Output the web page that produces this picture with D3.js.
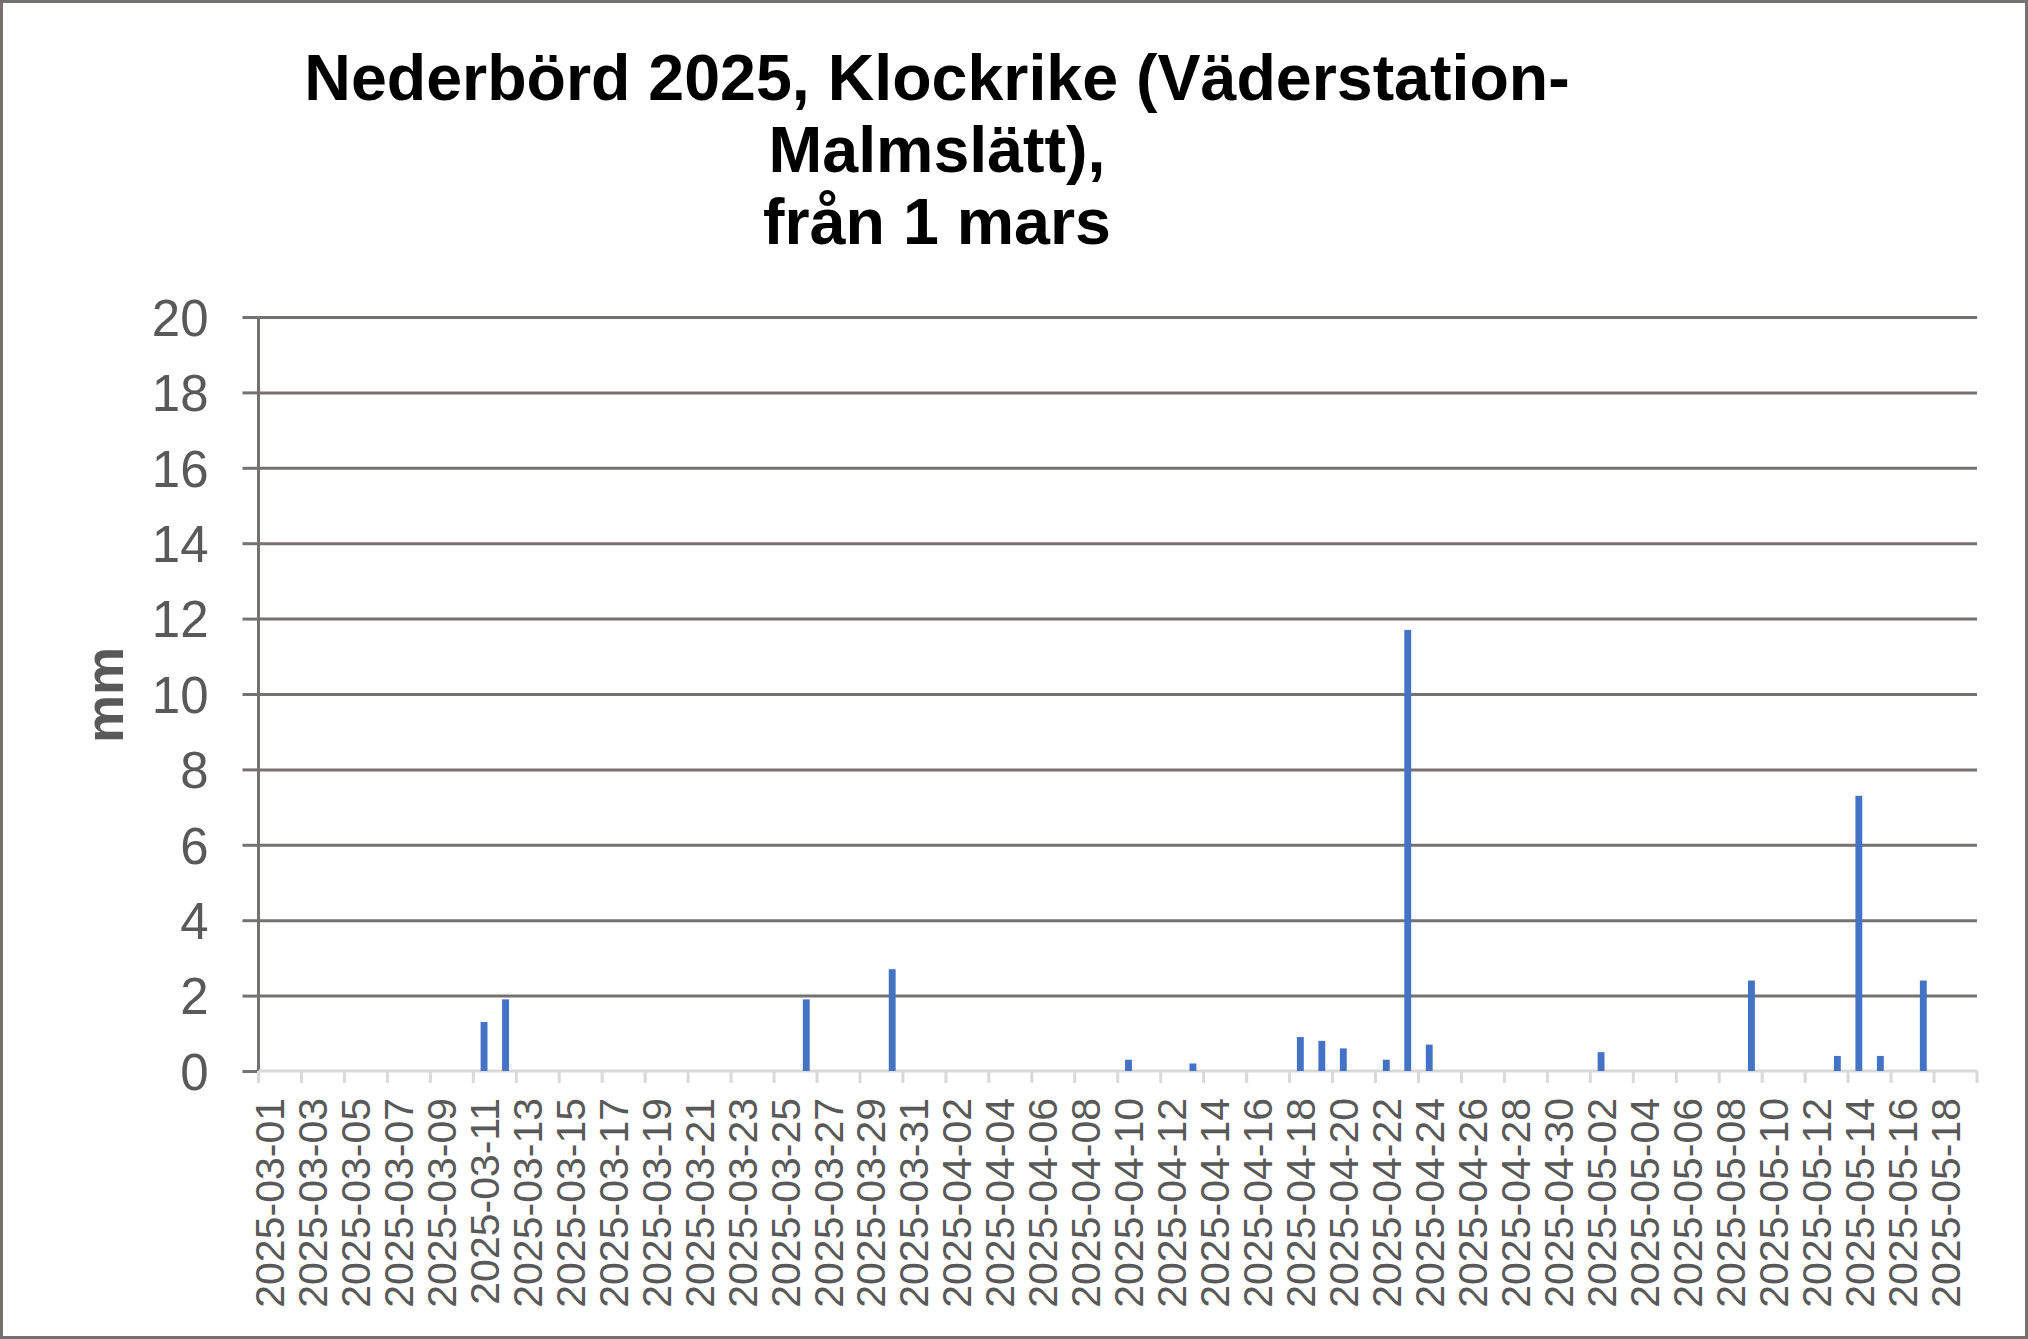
<!DOCTYPE html>
<html>
<head>
<meta charset="utf-8">
<script src="https://cdn.jsdelivr.net/npm/d3@7"></script>
<style>
  html, body { margin: 0; padding: 0; background: #fff; }
  svg { display: block; }
</style>
</head>
<body>
<svg id="chart" width="2028" height="1339"></svg>
<script>
const titleLines = ["Nederbörd 2025, Klockrike (Väderstation-", "Malmslätt),", "från 1 mars"];
const yAxisTitle = "mm";

const categories = [
  "2025-03-01","2025-03-02","2025-03-03","2025-03-04","2025-03-05","2025-03-06","2025-03-07","2025-03-08","2025-03-09","2025-03-10",
  "2025-03-11","2025-03-12","2025-03-13","2025-03-14","2025-03-15","2025-03-16","2025-03-17","2025-03-18","2025-03-19","2025-03-20",
  "2025-03-21","2025-03-22","2025-03-23","2025-03-24","2025-03-25","2025-03-26","2025-03-27","2025-03-28","2025-03-29","2025-03-30",
  "2025-03-31","2025-04-01","2025-04-02","2025-04-03","2025-04-04","2025-04-05","2025-04-06","2025-04-07","2025-04-08","2025-04-09",
  "2025-04-10","2025-04-11","2025-04-12","2025-04-13","2025-04-14","2025-04-15","2025-04-16","2025-04-17","2025-04-18","2025-04-19",
  "2025-04-20","2025-04-21","2025-04-22","2025-04-23","2025-04-24","2025-04-25","2025-04-26","2025-04-27","2025-04-28","2025-04-29",
  "2025-04-30","2025-05-01","2025-05-02","2025-05-03","2025-05-04","2025-05-05","2025-05-06","2025-05-07","2025-05-08","2025-05-09",
  "2025-05-10","2025-05-11","2025-05-12","2025-05-13","2025-05-14","2025-05-15","2025-05-16","2025-05-17","2025-05-18","2025-05-19"
];

const precipitation = [
  0,0,0,0,0,0,0,0,0,0,
  1.3,1.9,0,0,0,0,0,0,0,0,
  0,0,0,0,0,1.9,0,0,0,2.7,
  0,0,0,0,0,0,0,0,0,0,
  0.3,0,0,0.2,0,0,0,0,0.9,0.8,
  0.6,0,0.3,11.7,0.7,0,0,0,0,0,
  0,0,0.5,0,0,0,0,0,0,2.4,
  0,0,0,0.4,7.3,0.4,0,2.4,0,0
];

const yTicks = [0,2,4,6,8,10,12,14,16,18,20];

const svg = d3.select("#chart");
const W = 2028, H = 1339;
const plot = { left: 258.5, right: 1977, top: 317, bottom: 1071 };

// outer frame
svg.append("rect")
  .attr("x", 1.5).attr("y", 1.5)
  .attr("width", W - 3).attr("height", H - 3)
  .attr("fill", "#fff").attr("stroke", "#767171").attr("stroke-width", 3);

const x = d3.scaleBand()
  .domain(categories)
  .range([plot.left, plot.right])
  .paddingInner(0.68).paddingOuter(0.34);

const xOuter = d3.scaleBand()
  .domain(categories)
  .range([plot.left, plot.right])
  .padding(0);

const y = d3.scaleLinear().domain([0, 20]).range([plot.bottom, plot.top]);

// title
const title = svg.append("text")
  .attr("text-anchor", "middle")
  .attr("font-family", "'Liberation Sans', Arial, sans-serif")
  .attr("font-weight", "bold")
  .attr("font-size", 64.5)
  .attr("fill", "#000");
titleLines.forEach((t, i) => {
  title.append("tspan").attr("x", 937).attr("y", 100 + i * 72).text(t);
});

// gridlines
const gridG = svg.append("g")
  .attr("transform", `translate(${plot.left},0)`)
  .call(d3.axisLeft(y).tickValues(yTicks.filter(v => v !== 0))
    .tickSize(-(plot.right - plot.left)).tickFormat(""));
gridG.select(".domain").remove();
gridG.selectAll(".tick line").attr("stroke", "#767171").attr("stroke-width", 3);

// y axis
const yAxisG = svg.append("g")
  .attr("transform", `translate(${plot.left},0)`)
  .call(d3.axisLeft(y).tickValues(yTicks).tickSize(16).tickPadding(34).tickFormat(d3.format("d")));
yAxisG.select(".domain").attr("stroke", "#767171").attr("stroke-width", 3)
  .attr("d", `M0,${plot.top}V${plot.bottom}`);
yAxisG.selectAll(".tick line").attr("stroke", "#767171").attr("stroke-width", 3);
yAxisG.selectAll(".tick text")
  .attr("font-family", "'Liberation Sans', Arial, sans-serif")
  .attr("font-size", 51)
  .attr("fill", "#595959")
  .attr("dy", "0.36em");

// x axis
const xAxisG = svg.append("g")
  .attr("transform", `translate(0,${plot.bottom})`);
xAxisG.append("line")
  .attr("x1", plot.left).attr("x2", plot.right)
  .attr("stroke", "#d9d9d9").attr("stroke-width", 3);
const boundaryCats = categories.filter((c, i) => i % 2 === 0);
xAxisG.selectAll("line.tickmark")
  .data(boundaryCats.concat(["__end"]))
  .join("line")
  .attr("class", "tickmark")
  .attr("x1", d => d === "__end" ? plot.right : xOuter(d))
  .attr("x2", d => d === "__end" ? plot.right : xOuter(d))
  .attr("y1", 0).attr("y2", 12)
  .attr("stroke", "#d9d9d9").attr("stroke-width", 3);

const tickLabels = categories.filter((c, i) => i % 2 === 0);
xAxisG.selectAll("text.xlab")
  .data(tickLabels)
  .join("text")
  .attr("class", "xlab")
  .attr("transform", d => `translate(${xOuter(d) + xOuter.bandwidth() / 2},27) rotate(-90)`)
  .attr("text-anchor", "end")
  .attr("dy", "0.36em")
  .attr("font-family", "'Liberation Sans', Arial, sans-serif")
  .attr("font-size", 41)
  .attr("fill", "#595959")
  .text(d => d);

// bars
const data = categories.map((c, i) => ({ date: c, value: precipitation[i] }));
svg.append("g").selectAll("rect")
  .data(data.filter(d => d.value > 0))
  .join("rect")
  .attr("x", d => x(d.date))
  .attr("y", d => y(d.value))
  .attr("width", x.bandwidth())
  .attr("height", d => y(0) - y(d.value))
  .attr("fill", "#4472C4");

// y axis title
svg.append("text")
  .attr("transform", `translate(104,695) rotate(-90)`)
  .attr("text-anchor", "middle")
  .attr("dy", "0.36em")
  .attr("font-family", "'Liberation Sans', Arial, sans-serif")
  .attr("font-weight", "bold")
  .attr("font-size", 54)
  .attr("fill", "#595959")
  .text(yAxisTitle);
</script>
</body>
</html>
